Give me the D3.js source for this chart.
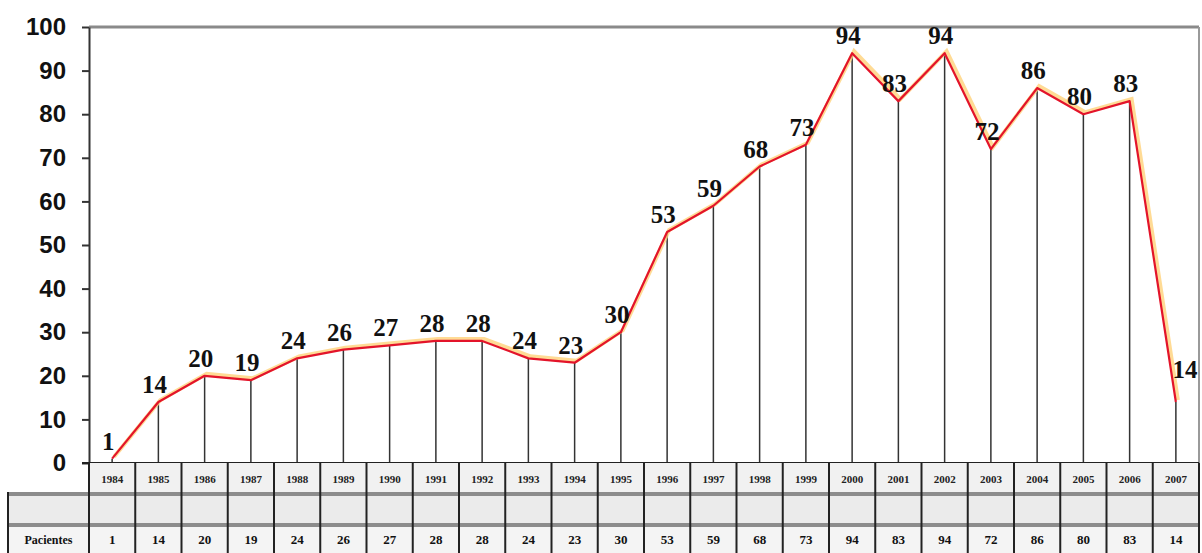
<!DOCTYPE html>
<html><head><meta charset="utf-8">
<script src="https://cdn.jsdelivr.net/npm/d3@7"></script>
<style>
html,body{margin:0;padding:0;background:#fff;overflow:hidden;}
svg{display:block;}
</style></head>
<body>
<svg id="chart" width="1202" height="553"></svg>
<script>
const years = ["1984","1985","1986","1987","1988","1989","1990","1991","1992","1993","1994","1995","1996","1997","1998","1999","2000","2001","2002","2003","2004","2005","2006","2007"];
const pacientes = [1,14,20,19,24,26,27,28,28,24,23,30,53,59,68,73,94,83,94,72,86,80,83,14];
const yTicks = [0,10,20,30,40,50,60,70,80,90,100];
const rowLabel = "Pacientes";

(function(){
const svg = d3.select("#chart");
const pLeft = 89, pRight = 1199, pTop = 27, base = 463;
const x = d3.scaleBand().domain(years).range([pLeft, pRight]).padding(0);
const y = d3.scaleLinear().domain([0,100]).range([base, pTop]);
const cx = d => x(d) + x.bandwidth()/2;

svg.append("line").attr("x1", pLeft).attr("x2", pRight).attr("y1", pTop).attr("y2", pTop)
  .attr("stroke", "#8a8a8a").attr("stroke-width", 3);
svg.append("line").attr("x1", pRight).attr("x2", pRight).attr("y1", pTop).attr("y2", base)
  .attr("stroke", "#9a9a9a").attr("stroke-width", 2);

svg.append("g").selectAll("line").data(years).join("line")
  .attr("x1", d => cx(d)).attr("x2", d => cx(d))
  .attr("y1", (d,i) => y(pacientes[i])).attr("y2", base)
  .attr("stroke", "#333").attr("stroke-width", 1.5);

const yAxis = d3.axisLeft(y).tickValues(yTicks).tickSize(7).tickSizeOuter(0).tickPadding(16);
const ga = svg.append("g").attr("transform", `translate(${pLeft},0)`).call(yAxis);
ga.select(".domain").attr("stroke", "#333").attr("stroke-width", 2);
ga.selectAll(".tick line").attr("stroke", "#333").attr("stroke-width", 2);
ga.selectAll(".tick text").attr("font-family", "Liberation Sans, Arial, sans-serif")
  .attr("font-size", 24).attr("font-weight", "bold").attr("fill", "#111");

svg.append("line").attr("x1", pLeft - 7).attr("x2", pRight).attr("y1", base).attr("y2", base)
  .attr("stroke", "#222").attr("stroke-width", 2);

const line = d3.line().x((d,i) => cx(years[i])).y(d => y(d));
svg.append("path").datum(pacientes).attr("d", line)
  .attr("fill", "none").attr("stroke", "#ffd27a").attr("stroke-width", 4).attr("opacity", 0.8)
  .attr("transform", "translate(2,-2)");
svg.append("path").datum(pacientes).attr("d", line)
  .attr("fill", "none").attr("stroke", "#e3142a").attr("stroke-width", 2.2).attr("stroke-linejoin", "round");

const last = pacientes.length - 1;
svg.append("g").selectAll("text").data(pacientes).join("text")
  .attr("x", (d,i) => cx(years[i]) + (i === last ? 9 : -4))
  .attr("y", (d,i) => y(d) - (i === last ? 24 : 9))
  .attr("text-anchor", "middle")
  .attr("font-family", "Liberation Serif, Times New Roman, serif")
  .attr("font-size", 25).attr("font-weight", "bold").attr("fill", "#111")
  .text(d => d);

const r1 = base, r2 = 494, r3 = 525, r4 = 556;
const tl = 8;
const tg = svg.append("g");
tg.append("rect").attr("x", pLeft).attr("y", r1).attr("width", pRight - pLeft).attr("height", r2 - r1).attr("fill", "#f1f1f1");
tg.append("rect").attr("x", tl).attr("y", r2).attr("width", pRight - tl).attr("height", r3 - r2).attr("fill", "#ebebeb");
tg.append("rect").attr("x", tl).attr("y", r3).attr("width", pRight - tl).attr("height", r4 - r3).attr("fill", "#f4f4f4");
[r2, r3].forEach(yy => tg.append("line").attr("x1", tl).attr("x2", pRight).attr("y1", yy).attr("y2", yy)
  .attr("stroke", "#8c8c8c").attr("stroke-width", 4));
const bounds = years.map(d => x(d)).concat([pRight]);
tg.selectAll("line.col").data(bounds).join("line").attr("class", "col")
  .attr("x1", d => d).attr("x2", d => d).attr("y1", r1).attr("y2", r4)
  .attr("stroke", "#222").attr("stroke-width", 2);
tg.append("line").attr("x1", tl).attr("x2", tl).attr("y1", r2 - 2).attr("y2", r4)
  .attr("stroke", "#222").attr("stroke-width", 2);
tg.selectAll("text.yr").data(years).join("text").attr("class", "yr")
  .attr("x", d => cx(d)).attr("y", (r1 + r2)/2 + 4)
  .attr("text-anchor", "middle")
  .attr("font-family", "Liberation Serif, Times New Roman, serif")
  .attr("font-size", 11).attr("font-weight", "bold").attr("fill", "#222")
  .text(d => d);
tg.selectAll("text.val").data(pacientes).join("text").attr("class", "val")
  .attr("x", (d,i) => cx(years[i])).attr("y", (r3 + 553)/2 + 5)
  .attr("text-anchor", "middle")
  .attr("font-family", "Liberation Serif, Times New Roman, serif")
  .attr("font-size", 13).attr("font-weight", "bold").attr("fill", "#111")
  .text(d => d);
tg.append("text").attr("x", (tl + pLeft)/2).attr("y", (r3 + 553)/2 + 5)
  .attr("text-anchor", "middle")
  .attr("font-family", "Liberation Serif, Times New Roman, serif")
  .attr("font-size", 12).attr("font-weight", "bold").attr("fill", "#111")
  .text(rowLabel);
})();
</script>
</body></html>
